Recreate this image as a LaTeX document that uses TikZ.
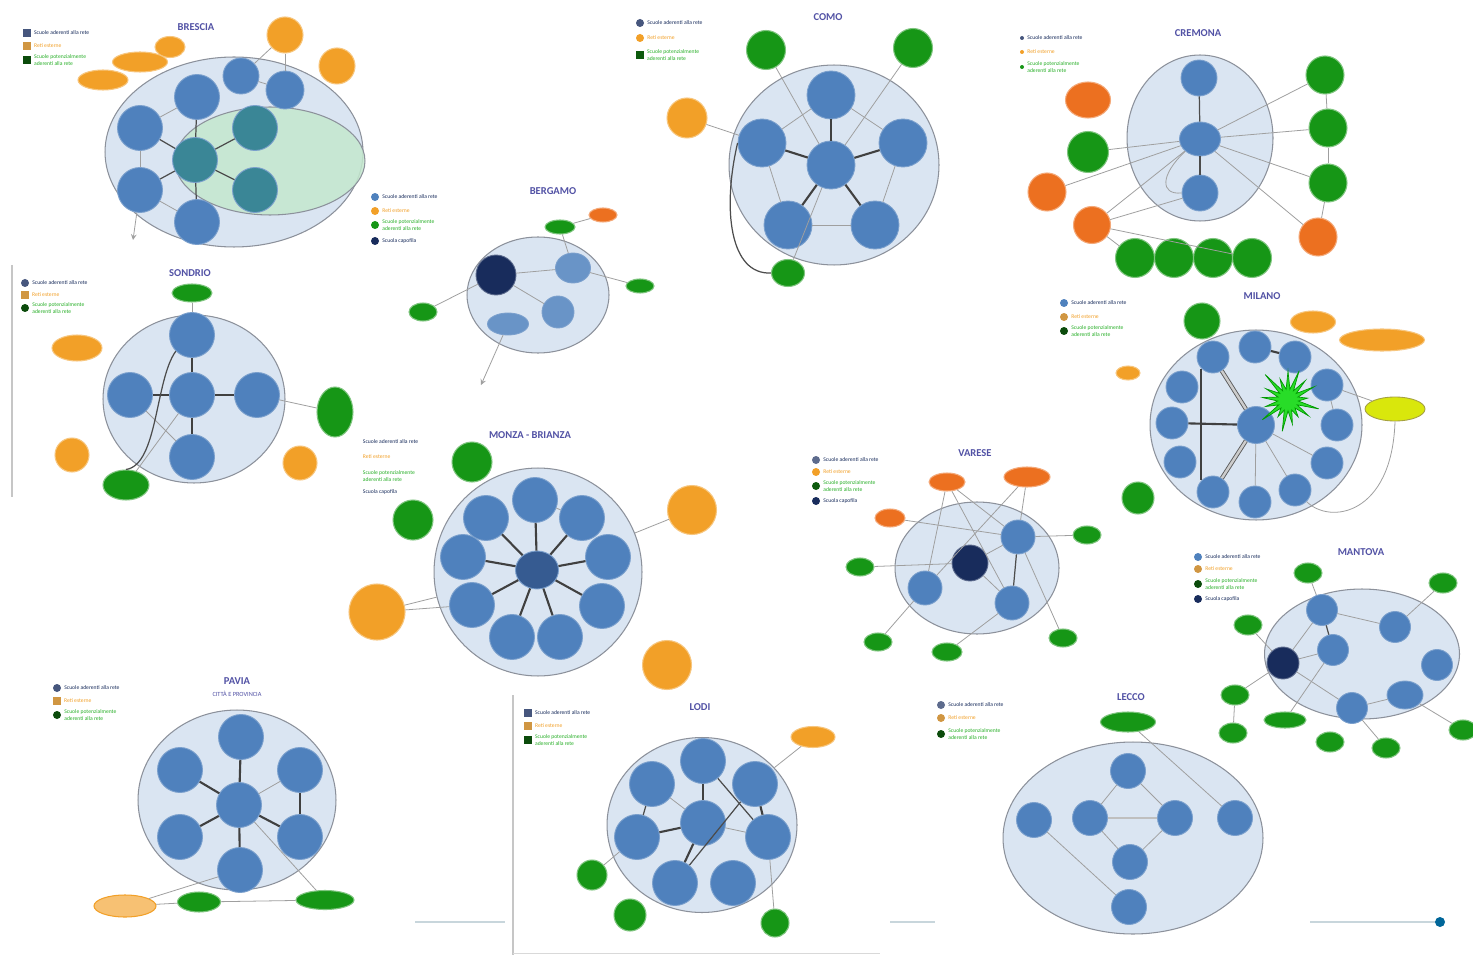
\documentclass[tikz,border=0pt]{standalone}
\usepackage{fontspec}
\setmainfont{Carlito}
\usetikzlibrary{shapes.geometric, shapes.symbols, positioning}
\definecolor{SchoolBlue}{RGB}{79, 129, 189}
\definecolor{ZoneFill}{RGB}{218, 229, 242}
\definecolor{ZoneLine}{RGB}{140, 145, 155}
\definecolor{LeadNavy}{RGB}{24, 44, 92}
\definecolor{ExtOrange}{RGB}{242, 160, 40}
\definecolor{ExtRed}{RGB}{236, 112, 32}
\definecolor{CandGreen}{RGB}{22, 150, 22}
\definecolor{LegGreen}{RGB}{40, 175, 40}
\definecolor{TitleBlue}{RGB}{82, 82, 165}
\definecolor{ShareTeal}{RGB}{58, 134, 150}
\definecolor{ValleyGreen}{RGB}{196, 232, 206}
\definecolor{StarGreen}{RGB}{40, 220, 40}
\begin{document}
\begin{tikzpicture}[x=0.02cm, y=-0.02cm,
    zona/.style={ellipse, draw=ZoneLine, fill=ZoneFill, line width=0.6pt, inner sep=0pt},
    scuola/.style={circle, fill=SchoolBlue, draw=SchoolBlue!75!white, line width=0.5pt, minimum size=0.9cm, inner sep=0pt},
    capofila/.style={scuola, fill=LeadNavy, draw=LeadNavy!70!white},
    esterna/.style={circle, fill=ExtOrange, draw=ExtOrange!60!white, line width=0.6pt, minimum size=0.72cm, inner sep=0pt},
    rossa/.style={esterna, fill=ExtRed, draw=ExtRed!60!white},
    vicina/.style={circle, fill=CandGreen, draw=CandGreen!55!white, line width=0.6pt, minimum size=0.72cm, inner sep=0pt},
    titolo/.style={font=\fontsize{6}{7}\selectfont\bfseries, text=TitleBlue, inner sep=0pt},
    legq/.style={rectangle, minimum size=0.15cm, inner sep=0pt},
    legc/.style={circle, minimum size=0.16cm, inner sep=0pt},
    legtxt/.style={font=\fontsize{3.2}{3.7}\selectfont, align=left, inner sep=1.5pt},
    legame/.style={draw=gray!75, line width=0.45pt},
    medio/.style={draw=gray!60!black, line width=0.7pt},
    forte/.style={draw=black!75, line width=1.2pt},
    doppio/.style={draw=black!65, double=gray!40, double distance=1.4pt, line width=0.5pt}]

    \fill[white] (0,0) rectangle (1473,959);
    \useasboundingbox (0,0) rectangle (1473,959);

    % Brescia
    \node[titolo] (brT) at (196,27) {BRESCIA};
    \node[legq, fill=LeadNavy!80, label={[legtxt, text=LeadNavy]right:Scuole aderenti alla rete}] (brL1) at (27,33) {};
    \node[legq, fill=ExtOrange!70!gray, label={[legtxt, text=ExtOrange]right:Reti esterne}] (brL2) at (27,46) {};
    \node[legq, fill=CandGreen!50!black, label={[legtxt, text=LegGreen]right:{Scuole potenzialmente\\aderenti alla rete}}] (brL3) at (27,60) {};
    \node[zona, minimum width=5.16cm, minimum height=3.8cm] (brZ) at (234,152) {};
    \node[ellipse, fill=ValleyGreen, fill opacity=0.85, draw=ZoneLine, line width=0.6pt, minimum width=3.8cm, minimum height=2.16cm] (brV) at (270,161) {};
    \node[scuola] (brA) at (197,97) {};
    \node[scuola] (brB) at (140,128) {};
    \node[scuola] (brC) at (140,190) {};
    \node[scuola] (brD) at (197,222) {};
    \node[scuola, fill=ShareTeal] (brE) at (195,160) {};
    \node[scuola, fill=ShareTeal] (brF) at (255,128) {};
    \node[scuola, fill=ShareTeal] (brG) at (255,190) {};
    \node[scuola, minimum size=0.72cm] (brH) at (241,76) {};
    \node[scuola, minimum size=0.76cm] (brI) at (285,90) {};
    \node[esterna] (brO1) at (285,35) {};
    \node[esterna] (brO2) at (337,66) {};
    \node[esterna, ellipse, minimum width=0.6cm, minimum height=0.42cm] (brO3) at (170,47) {};
    \node[esterna, ellipse, minimum width=1.1cm, minimum height=0.4cm] (brO4) at (140,62) {};
    \node[esterna, ellipse, minimum width=1.0cm, minimum height=0.4cm] (brO5) at (103,80) {};
    \coordinate (brX) at (133,240);
    \draw[medio] (brE) -- (brA);
    \draw[medio] (brE) -- (brB);
    \draw[medio] (brE) -- (brC);
    \draw[medio] (brE) -- (brD);
    \draw[medio] (brE) -- (brF);
    \draw[medio] (brE) -- (brG);
    \draw[legame] (brA) -- (brB);
    \draw[legame] (brB) -- (brC);
    \draw[legame] (brC) -- (brD);
    \draw[legame] (brH) -- (brI);
    \draw[legame] (brO1) -- (brH);
    \draw[legame] (brO1) -- (brI);
    \draw[legame, -stealth] (brC) -- (brX);

    % legenda Bergamo
    \node[legc, fill=SchoolBlue, label={[legtxt, text=LeadNavy]right:Scuole aderenti alla rete}] (bgL1) at (375,197) {};
    \node[legc, fill=ExtOrange, label={[legtxt, text=ExtOrange]right:Reti esterne}] (bgL2) at (375,211) {};
    \node[legc, fill=CandGreen, label={[legtxt, text=LegGreen]right:{Scuole potenzialmente\\aderenti alla rete}}] (bgL3) at (375,225) {};
    \node[legc, fill=LeadNavy, label={[legtxt, text=LeadNavy]right:Scuola capofila}] (bgL4) at (375,241) {};

    % Bergamo
    \node[titolo] (bgT) at (553,191) {BERGAMO};
    \node[zona, minimum width=2.84cm, minimum height=2.32cm] (bgZ) at (538,295) {};
    \node[capofila, minimum size=0.8cm] (bgA) at (496,275) {};
    \node[scuola, ellipse, fill=SchoolBlue!85!white, minimum width=0.7cm, minimum height=0.6cm] (bgB) at (573,268) {};
    \node[scuola, fill=SchoolBlue!85!white, minimum size=0.64cm] (bgC) at (558,312) {};
    \node[scuola, ellipse, fill=SchoolBlue!85!white, minimum width=0.82cm, minimum height=0.44cm] (bgD) at (508,324) {};
    \node[vicina, ellipse, minimum width=0.6cm, minimum height=0.28cm] (bgV1) at (560,227) {};
    \node[rossa, ellipse, minimum width=0.56cm, minimum height=0.28cm] (bgO) at (603,215) {};
    \node[vicina, ellipse, minimum width=0.56cm, minimum height=0.36cm] (bgV2) at (423,312) {};
    \node[vicina, ellipse, minimum width=0.56cm, minimum height=0.28cm] (bgV3) at (640,286) {};
    \coordinate (bgX) at (481,385);
    \draw[legame] (bgA) -- (bgB);
    \draw[legame] (bgA) -- (bgC);
    \draw[legame] (bgV1) -- (bgB);
    \draw[legame] (bgV1) -- (bgO);
    \draw[legame] (bgV2) -- (bgA);
    \draw[legame] (bgB) -- (bgV3);
    \draw[legame, -stealth] (bgD) -- (bgX);

    % Como
    \node[titolo] (coT) at (828,17) {COMO};
    \node[legc, fill=LeadNavy!80, label={[legtxt, text=LeadNavy]right:Scuole aderenti alla rete}] (coL1) at (640,23) {};
    \node[legc, fill=ExtOrange, label={[legtxt, text=ExtOrange]right:Reti esterne}] (coL2) at (640,38) {};
    \node[legq, fill=CandGreen!60!black, label={[legtxt, text=LegGreen]right:{Scuole potenzialmente\\aderenti alla rete}}] (coL3) at (640,55) {};
    \node[zona, minimum width=4.2cm, minimum height=4.0cm] (coZ) at (834,165) {};
    \node[scuola, minimum size=0.96cm] (coC) at (831,165) {};
    \node[scuola, minimum size=0.96cm] (coN) at (831,95) {};
    \node[scuola, minimum size=0.96cm] (coW) at (762,143) {};
    \node[scuola, minimum size=0.96cm] (coE) at (903,143) {};
    \node[scuola, minimum size=0.96cm] (coSW) at (788,225) {};
    \node[scuola, minimum size=0.96cm] (coSE) at (875,225) {};
    \node[vicina, minimum size=0.78cm] (coV1) at (766,50) {};
    \node[vicina, minimum size=0.78cm] (coV2) at (913,48) {};
    \node[vicina, ellipse, minimum width=0.66cm, minimum height=0.54cm] (coV3) at (788,273) {};
    \node[esterna, minimum size=0.8cm] (coO) at (687,118) {};
    \draw[forte] (coC) -- (coN);
    \draw[forte] (coC) -- (coW);
    \draw[forte] (coC) -- (coE);
    \draw[forte] (coC) -- (coSW);
    \draw[forte] (coC) -- (coSE);
    \draw[legame] (coN) -- (coW);
    \draw[legame] (coN) -- (coE);
    \draw[legame] (coW) -- (coSW);
    \draw[legame] (coE) -- (coSE);
    \draw[legame] (coSW) -- (coSE);
    \draw[legame] (coV1) -- (coC);
    \draw[legame] (coV2) -- (coC);
    \draw[legame] (coO) -- (coW);
    \draw[legame] (coC) -- (coV3);
    \draw[medio] (coW.west) .. controls (722,210) and (730,275) .. (coV3.west);

    % Cremona
    \node[titolo] (crT) at (1198,33) {CREMONA};
    \node[legc, fill=LeadNavy!80, minimum size=0.08cm, label={[legtxt, text=LeadNavy]right:Scuole aderenti alla rete}] (crL1) at (1022,38) {};
    \node[legc, fill=ExtOrange, minimum size=0.08cm, label={[legtxt, text=ExtOrange]right:Reti esterne}] (crL2) at (1022,52) {};
    \node[legc, fill=CandGreen, minimum size=0.08cm, label={[legtxt, text=LegGreen]right:{Scuole potenzialmente\\aderenti alla rete}}] (crL3) at (1022,67) {};
    \node[zona, minimum width=2.92cm, minimum height=3.32cm] (crZ) at (1200,138) {};
    \node[scuola, minimum size=0.72cm] (crA) at (1199,78) {};
    \node[scuola, ellipse, minimum width=0.82cm, minimum height=0.68cm] (crB) at (1200,139) {};
    \node[scuola, minimum size=0.72cm] (crC) at (1200,193) {};
    \node[vicina, minimum size=0.76cm] (crV1) at (1325,75) {};
    \node[vicina, minimum size=0.76cm] (crV2) at (1328,128) {};
    \node[vicina, minimum size=0.76cm] (crV3) at (1328,183) {};
    \node[rossa, minimum size=0.76cm] (crO1) at (1318,237) {};
    \node[rossa, ellipse, minimum width=0.9cm, minimum height=0.72cm] (crO2) at (1088,100) {};
    \node[vicina, minimum size=0.82cm] (crV4) at (1088,152) {};
    \node[rossa, minimum size=0.76cm] (crO3) at (1047,192) {};
    \node[rossa, minimum size=0.74cm] (crO4) at (1092,225) {};
    \node[vicina, minimum size=0.78cm] (crV5) at (1135,258) {};
    \node[vicina, minimum size=0.78cm] (crV6) at (1174,258) {};
    \node[vicina, minimum size=0.78cm] (crV7) at (1213,258) {};
    \node[vicina, minimum size=0.78cm] (crV8) at (1252,258) {};
    \draw[medio] (crA) -- (crB);
    \draw[medio] (crB) -- (crC);
    \draw[legame] (crB) -- (crV1);
    \draw[legame] (crB) -- (crV2);
    \draw[legame] (crB) -- (crV3);
    \draw[legame] (crB) -- (crO1);
    \draw[legame] (crB) -- (crV4);
    \draw[legame] (crB) -- (crO3);
    \draw[legame] (crO4) -- (crB);
    \draw[legame] (crO4) -- (crC);
    \draw[legame] (crO4) -- (crV8);
    \draw[legame] (crO4) -- (crV5);
    \draw[legame] (crV1) -- (crV2);
    \draw[legame] (crV2) -- (crV3);
    \draw[legame] (crV3) -- (crO1);
    \draw[legame] (crB.south west) .. controls (1160,175) and (1160,195) .. (crC.west);

    % Sondrio
    \draw[gray!45, line width=0.6pt] (12,265) -- (12,497);
    \node[titolo] (soT) at (190,273) {SONDRIO};
    \node[legc, fill=LeadNavy!80, label={[legtxt, text=LeadNavy]right:Scuole aderenti alla rete}] (soL1) at (25,283) {};
    \node[legq, fill=ExtOrange!70!gray, label={[legtxt, text=ExtOrange]right:Reti esterne}] (soL2) at (25,295) {};
    \node[legc, fill=CandGreen!50!black, label={[legtxt, text=LegGreen]right:{Scuole potenzialmente\\aderenti alla rete}}] (soL3) at (25,308) {};
    \node[zona, minimum width=3.64cm, minimum height=3.36cm] (soZ) at (194,399) {};
    \node[scuola] (soN) at (192,335) {};
    \node[scuola] (soW) at (130,395) {};
    \node[scuola] (soC) at (192,395) {};
    \node[scuola] (soE) at (257,395) {};
    \node[scuola] (soS) at (192,457) {};
    \node[vicina, ellipse, minimum width=0.8cm, minimum height=0.36cm] (soV1) at (192,293) {};
    \node[esterna, ellipse, minimum width=1.0cm, minimum height=0.52cm] (soO1) at (77,348) {};
    \node[esterna, minimum size=0.68cm] (soO2) at (72,455) {};
    \node[vicina, ellipse, minimum width=0.92cm, minimum height=0.6cm] (soV2) at (126,485) {};
    \node[vicina, ellipse, minimum width=0.72cm, minimum height=1.0cm] (soV3) at (335,412) {};
    \node[esterna, minimum size=0.68cm] (soO3) at (300,463) {};
    \draw[forte] (soC) -- (soN);
    \draw[forte] (soC) -- (soW);
    \draw[forte] (soC) -- (soE);
    \draw[forte] (soC) -- (soS);
    \draw[legame] (soV1) -- (soN);
    \draw[legame] (soW) -- (soS);
    \draw[legame] (soC) -- (soV2);
    \draw[legame] (soE) -- (soV3);
    \draw[medio] (soN.south west) .. controls (155,380) and (158,465) .. (soV2.north);

    % legenda Monza
    \node[legtxt, text=LeadNavy, anchor=west] (moL1) at (360,442) {Scuole aderenti alla rete};
    \node[legtxt, text=ExtOrange, anchor=west] (moL2) at (360,457) {Reti esterne};
    \node[legtxt, text=LegGreen, anchor=west] (moL3) at (360,476) {Scuole potenzialmente\\aderenti alla rete};
    \node[legtxt, text=LeadNavy, anchor=west] (moL4) at (360,492) {Scuola capofila};

    % Monza - Brianza
    \node[titolo] (moT) at (530,435) {MONZA - BRIANZA};
    \node[zona, minimum size=4.16cm] (moZ) at (538,572) {};
    \node[scuola, ellipse, fill=SchoolBlue!55!LeadNavy, minimum width=0.86cm, minimum height=0.76cm] (moC) at (537,570) {};
    \node[scuola] (moA) at (535,500) {};
    \node[scuola] (moB) at (582,518) {};
    \node[scuola] (moD) at (608,557) {};
    \node[scuola] (moE) at (602,606) {};
    \node[scuola] (moF) at (560,637) {};
    \node[scuola] (moG) at (512,637) {};
    \node[scuola] (moH) at (472,605) {};
    \node[scuola] (moI) at (463,557) {};
    \node[scuola] (moJ) at (486,518) {};
    \node[vicina, minimum size=0.8cm] (moV1) at (472,462) {};
    \node[vicina, minimum size=0.8cm] (moV2) at (413,520) {};
    \node[esterna, minimum size=0.98cm] (moO1) at (692,510) {};
    \node[esterna, minimum size=1.12cm] (moO2) at (377,612) {};
    \node[esterna, minimum size=0.98cm] (moO3) at (667,665) {};
    \draw[forte] (moC) -- (moA);
    \draw[forte] (moC) -- (moB);
    \draw[forte] (moC) -- (moD);
    \draw[forte] (moC) -- (moE);
    \draw[forte] (moC) -- (moF);
    \draw[forte] (moC) -- (moG);
    \draw[forte] (moC) -- (moH);
    \draw[forte] (moC) -- (moI);
    \draw[forte] (moC) -- (moJ);
    \draw[legame] (moA) -- (moB);
    \draw[legame] (moO1) -- (moZ);
    \draw[legame] (moO2) -- (moZ);
    \draw[legame] (moO2) -- (moH);

    % Pavia
    \node[titolo] (paT) at (237,681) {PAVIA};
    \node[font=\fontsize{3.6}{4}\selectfont, text=TitleBlue] (paS0) at (237,694) {CITTÀ E PROVINCIA};
    \node[legc, fill=LeadNavy!80, label={[legtxt, text=LeadNavy]right:Scuole aderenti alla rete}] (paL1) at (57,688) {};
    \node[legq, fill=ExtOrange!70!gray, label={[legtxt, text=ExtOrange]right:Reti esterne}] (paL2) at (57,701) {};
    \node[legc, fill=CandGreen!50!black, label={[legtxt, text=LegGreen]right:{Scuole potenzialmente\\aderenti alla rete}}] (paL3) at (57,715) {};
    \node[zona, minimum width=3.96cm, minimum height=3.6cm] (paZ) at (237,800) {};
    \node[scuola] (paN) at (241,737) {};
    \node[scuola] (paNW) at (180,770) {};
    \node[scuola] (paNE) at (300,770) {};
    \node[scuola] (paC) at (239,805) {};
    \node[scuola] (paSW) at (180,837) {};
    \node[scuola] (paSE) at (300,837) {};
    \node[scuola] (paS) at (240,870) {};
    \node[esterna, ellipse, fill=ExtOrange!65!white, draw=ExtOrange, minimum width=1.24cm, minimum height=0.44cm] (paO) at (125,906) {};
    \node[vicina, ellipse, minimum width=0.86cm, minimum height=0.4cm] (paV1) at (199,902) {};
    \node[vicina, ellipse, minimum width=1.16cm, minimum height=0.38cm] (paV2) at (325,900) {};
    \draw[forte] (paC) -- (paN);
    \draw[forte] (paC) -- (paNW);
    \draw[forte] (paC) -- (paSW);
    \draw[forte] (paC) -- (paSE);
    \draw[forte] (paC) -- (paS);
    \draw[forte] (paNE) -- (paSE);
    \draw[legame] (paS) -- (paO);
    \draw[legame] (paO) -- (paV1);
    \draw[legame] (paV1) -- (paV2);
    \draw[legame] (paC) -- (paV2);
    \draw[legame] (paC) -- (paNE);

    % Lodi
    \draw[gray!45, line width=0.6pt] (513,695) -- (513,955);
    \draw[gray!30, line width=0.5pt] (513,953) -- (880,953);
    \node[titolo] (loT) at (700,707) {LODI};
    \node[legq, fill=LeadNavy!80, label={[legtxt, text=LeadNavy]right:Scuole aderenti alla rete}] (loL1) at (528,713) {};
    \node[legq, fill=ExtOrange!70!gray, label={[legtxt, text=ExtOrange]right:Reti esterne}] (loL2) at (528,726) {};
    \node[legq, fill=CandGreen!50!black, label={[legtxt, text=LegGreen]right:{Scuole potenzialmente\\aderenti alla rete}}] (loL3) at (528,740) {};
    \node[zona, minimum width=3.8cm, minimum height=3.5cm] (loZ) at (702,825) {};
    \node[scuola] (loN) at (703,761) {};
    \node[scuola] (loNW) at (652,784) {};
    \node[scuola] (loNE) at (755,784) {};
    \node[scuola] (loW) at (637,837) {};
    \node[scuola] (loC) at (703,823) {};
    \node[scuola] (loE) at (768,837) {};
    \node[scuola] (loSW) at (675,883) {};
    \node[scuola] (loSE) at (733,883) {};
    \node[esterna, ellipse, minimum width=0.88cm, minimum height=0.42cm] (loO) at (813,737) {};
    \node[vicina, minimum size=0.6cm] (loV1) at (592,875) {};
    \node[vicina, minimum size=0.64cm] (loV2) at (630,915) {};
    \node[vicina, minimum size=0.56cm] (loV3) at (775,923) {};
    \draw[forte] (loC) -- (loN);
    \draw[forte] (loC) -- (loW);
    \draw[forte] (loC) -- (loSW);
    \draw[forte] (loNE) -- (loE);
    \draw[medio] (loNW) -- (loW);
    \draw[medio] (loN) -- (loE);
    \draw[medio] (loNE) -- (loSW);
    \draw[legame] (loC) -- (loE);
    \draw[legame] (loNW) -- (loC);
    \draw[legame] (loO) -- (loZ);
    \draw[legame] (loE) -- (loV3);
    \draw[legame] (loW) -- (loV1);

    % Varese
    \node[titolo] (vaT) at (975,453) {VARESE};
    \node[legc, fill=LeadNavy!70, label={[legtxt, text=LeadNavy]right:Scuole aderenti alla rete}] (vaL1) at (816,460) {};
    \node[legc, fill=ExtOrange, label={[legtxt, text=ExtOrange]right:Reti esterne}] (vaL2) at (816,472) {};
    \node[legc, fill=CandGreen!60!black, label={[legtxt, text=LegGreen]right:{Scuole potenzialmente\\aderenti alla rete}}] (vaL3) at (816,486) {};
    \node[legc, fill=LeadNavy, label={[legtxt, text=LeadNavy]right:Scuola capofila}] (vaL4) at (816,501) {};
    \node[zona, minimum width=3.28cm, minimum height=2.64cm] (vaZ) at (977,568) {};
    \node[capofila, minimum size=0.72cm] (vaC) at (970,563) {};
    \node[scuola, minimum size=0.68cm] (vaA) at (1018,537) {};
    \node[scuola, minimum size=0.68cm] (vaB) at (925,588) {};
    \node[scuola, minimum size=0.68cm] (vaD) at (1012,603) {};
    \node[rossa, ellipse, minimum width=0.72cm, minimum height=0.36cm] (vaO1) at (947,482) {};
    \node[rossa, ellipse, minimum width=0.92cm, minimum height=0.4cm] (vaO2) at (1027,477) {};
    \node[rossa, ellipse, minimum width=0.6cm, minimum height=0.36cm] (vaO3) at (890,518) {};
    \node[vicina, ellipse, minimum width=0.56cm, minimum height=0.36cm] (vaV1) at (860,567) {};
    \node[vicina, ellipse, minimum width=0.56cm, minimum height=0.36cm] (vaV2) at (1087,535) {};
    \node[vicina, ellipse, minimum width=0.56cm, minimum height=0.36cm] (vaV3) at (878,642) {};
    \node[vicina, ellipse, minimum width=0.6cm, minimum height=0.36cm] (vaV4) at (947,652) {};
    \node[vicina, ellipse, minimum width=0.56cm, minimum height=0.36cm] (vaV5) at (1063,638) {};
    \draw[legame] (vaO1) -- (vaB);
    \draw[legame] (vaO1) -- (vaD);
    \draw[legame] (vaO1) -- (vaA);
    \draw[legame] (vaO2) -- (vaA);
    \draw[legame] (vaO2) -- (vaB);
    \draw[legame] (vaO3) -- (vaA);
    \draw[legame] (vaV1) -- (vaC);
    \draw[legame] (vaA) -- (vaV2);
    \draw[medio] (vaA) -- (vaD);
    \draw[legame] (vaC) -- (vaD);
    \draw[legame] (vaC) -- (vaA);
    \draw[legame] (vaB) -- (vaV3);
    \draw[legame] (vaD) -- (vaV4);
    \draw[legame] (vaA) -- (vaV5);

    % Milano
    \node[titolo] (miT) at (1262,296) {MILANO};
    \node[legc, fill=SchoolBlue, label={[legtxt, text=LeadNavy]right:Scuole aderenti alla rete}] (miL1) at (1064,303) {};
    \node[legc, fill=ExtOrange!70!gray, label={[legtxt, text=ExtOrange]right:Reti esterne}] (miL2) at (1064,317) {};
    \node[legc, fill=CandGreen!50!black, label={[legtxt, text=LegGreen]right:{Scuole potenzialmente\\aderenti alla rete}}] (miL3) at (1064,331) {};
    \node[zona, minimum width=4.24cm, minimum height=3.8cm] (miZ) at (1256,425) {};
    \node[scuola, minimum size=0.74cm] (miC) at (1256,425) {};
    \node[scuola, minimum size=0.64cm] (mi1) at (1213,357) {};
    \node[scuola, minimum size=0.64cm] (mi2) at (1255,347) {};
    \node[scuola, minimum size=0.64cm] (mi3) at (1295,357) {};
    \node[scuola, minimum size=0.64cm] (mi4) at (1327,385) {};
    \node[scuola, minimum size=0.64cm] (mi5) at (1337,425) {};
    \node[scuola, minimum size=0.64cm] (mi6) at (1327,463) {};
    \node[scuola, minimum size=0.64cm] (mi7) at (1295,490) {};
    \node[scuola, minimum size=0.64cm] (mi8) at (1255,502) {};
    \node[scuola, minimum size=0.64cm] (mi9) at (1213,492) {};
    \node[scuola, minimum size=0.64cm] (mi10) at (1180,462) {};
    \node[scuola, minimum size=0.64cm] (mi11) at (1172,423) {};
    \node[scuola, minimum size=0.64cm] (mi12) at (1182,387) {};
    \node[starburst, fill=StarGreen, draw=green!60!black, line width=0.4pt, minimum width=1.0cm, minimum height=0.76cm, inner sep=2pt] (miS) at (1288,400) {\phantom{x}};
    \node[vicina, minimum size=0.72cm] (miV1) at (1202,321) {};
    \node[vicina, minimum size=0.64cm] (miV2) at (1138,498) {};
    \node[esterna, ellipse, minimum width=0.9cm, minimum height=0.44cm] (miO1) at (1313,322) {};
    \node[esterna, ellipse, minimum width=1.7cm, minimum height=0.44cm] (miO2) at (1382,340) {};
    \node[esterna, ellipse, minimum width=0.48cm, minimum height=0.28cm] (miO3) at (1128,373) {};
    \node[ellipse, fill=yellow!85!green, draw=yellow!60!black, line width=0.5pt, minimum width=1.2cm, minimum height=0.48cm, inner sep=0pt] (miY) at (1395,409) {};
    \draw[doppio] (miC) -- (mi1);
    \draw[doppio] (miC) -- (mi9);
    \draw[forte] (miC) -- (mi11);
    \draw[forte] (mi1.south west) -- (mi9.north west);
    \draw[legame] (miC) -- (mi8);
    \draw[legame] (miC) -- (mi7);
    \draw[legame] (miC) -- (mi6);
    \draw[forte] (mi2) -- (mi3);
    \draw[legame] (mi4) -- (mi5);
    \draw[legame] (mi4) -- (miY);
    \draw[legame] (miY.south) .. controls (1392,515) and (1330,525) .. (mi7.south east);

    % Mantova
    \node[titolo] (maT) at (1361,552) {MANTOVA};
    \node[legc, fill=SchoolBlue, label={[legtxt, text=LeadNavy]right:Scuole aderenti alla rete}] (maL1) at (1198,557) {};
    \node[legc, fill=ExtOrange!70!gray, label={[legtxt, text=ExtOrange]right:Reti esterne}] (maL2) at (1198,569) {};
    \node[legc, fill=CandGreen!50!black, label={[legtxt, text=LegGreen]right:{Scuole potenzialmente\\aderenti alla rete}}] (maL3) at (1198,584) {};
    \node[legc, fill=LeadNavy, label={[legtxt, text=LeadNavy]right:Scuola capofila}] (maL4) at (1198,599) {};
    \node[zona, minimum width=3.9cm, minimum height=2.6cm] (maZ) at (1362,654) {};
    \node[scuola, minimum size=0.62cm] (maA) at (1322,610) {};
    \node[scuola, minimum size=0.62cm] (maB) at (1333,650) {};
    \node[capofila, minimum size=0.64cm] (maC) at (1283,663) {};
    \node[scuola, minimum size=0.62cm] (maD) at (1395,627) {};
    \node[scuola, minimum size=0.62cm] (maE) at (1437,665) {};
    \node[scuola, ellipse, minimum width=0.72cm, minimum height=0.56cm] (maF) at (1405,695) {};
    \node[scuola, minimum size=0.62cm] (maG) at (1352,708) {};
    \node[vicina, ellipse, minimum width=0.56cm, minimum height=0.4cm] (maV1) at (1308,573) {};
    \node[vicina, ellipse, minimum width=0.56cm, minimum height=0.4cm] (maV2) at (1443,583) {};
    \node[vicina, ellipse, minimum width=0.56cm, minimum height=0.4cm] (maV3) at (1248,625) {};
    \node[vicina, ellipse, minimum width=0.56cm, minimum height=0.4cm] (maV4) at (1235,695) {};
    \node[vicina, ellipse, minimum width=0.56cm, minimum height=0.4cm] (maV5) at (1233,733) {};
    \node[vicina, ellipse, minimum width=0.84cm, minimum height=0.32cm] (maV6) at (1285,720) {};
    \node[vicina, ellipse, minimum width=0.56cm, minimum height=0.4cm] (maV7) at (1330,742) {};
    \node[vicina, ellipse, minimum width=0.56cm, minimum height=0.4cm] (maV8) at (1386,748) {};
    \node[vicina, ellipse, minimum width=0.56cm, minimum height=0.4cm] (maV9) at (1463,730) {};
    \draw[medio] (maA) -- (maB);
    \draw[legame] (maA) -- (maC);
    \draw[legame] (maC) -- (maB);
    \draw[legame] (maA) -- (maD);
    \draw[legame] (maC) -- (maG);
    \draw[legame] (maG) -- (maF);
    \draw[legame] (maF) -- (maV9);
    \draw[legame] (maV1) -- (maA);
    \draw[legame] (maD) -- (maV2);
    \draw[legame] (maV3) -- (maC);
    \draw[legame] (maV4) -- (maV5);
    \draw[legame] (maV4) -- (maC);
    \draw[legame] (maV6) -- (maB);
    \draw[legame] (maG) -- (maV8);

    % Lecco
    \node[titolo] (leT) at (1131,697) {LECCO};
    \node[legc, fill=LeadNavy!70, label={[legtxt, text=LeadNavy]right:Scuole aderenti alla rete}] (leL1) at (941,705) {};
    \node[legc, fill=ExtOrange!70!gray, label={[legtxt, text=ExtOrange]right:Reti esterne}] (leL2) at (941,718) {};
    \node[legc, fill=CandGreen!50!black, label={[legtxt, text=LegGreen]right:{Scuole potenzialmente\\aderenti alla rete}}] (leL3) at (941,734) {};
    \node[zona, minimum width=5.2cm, minimum height=3.84cm] (leZ) at (1133,838) {};
    \node[scuola, minimum size=0.7cm] (leN) at (1128,771) {};
    \node[scuola, minimum size=0.7cm] (leW) at (1034,820) {};
    \node[scuola, minimum size=0.7cm] (leL) at (1090,818) {};
    \node[scuola, minimum size=0.7cm] (leR) at (1175,818) {};
    \node[scuola, minimum size=0.7cm] (leE) at (1235,818) {};
    \node[scuola, minimum size=0.7cm] (leS) at (1130,862) {};
    \node[scuola, minimum size=0.7cm] (leB) at (1129,907) {};
    \node[vicina, ellipse, minimum width=1.1cm, minimum height=0.4cm] (leV) at (1128,722) {};
    \draw[legame] (leN) -- (leL);
    \draw[legame] (leN) -- (leR);
    \draw[medio, gray!50] (leL) -- (leR);
    \draw[legame] (leL) -- (leS);
    \draw[legame] (leR) -- (leS);
    \draw[legame] (leW) -- (leB);
    \draw[legame] (leV) -- (leE);

    % barre in basso
    \draw[cyan!25!gray!40, line width=1pt] (415,922) -- (505,922);
    \draw[cyan!25!gray!40, line width=1pt] (890,922) -- (935,922);
    \draw[cyan!25!gray!40, line width=1pt] (1310,922) -- (1440,922);
    \fill[teal!80!blue] (1440,922) circle (5);
\end{tikzpicture}
\end{document}
